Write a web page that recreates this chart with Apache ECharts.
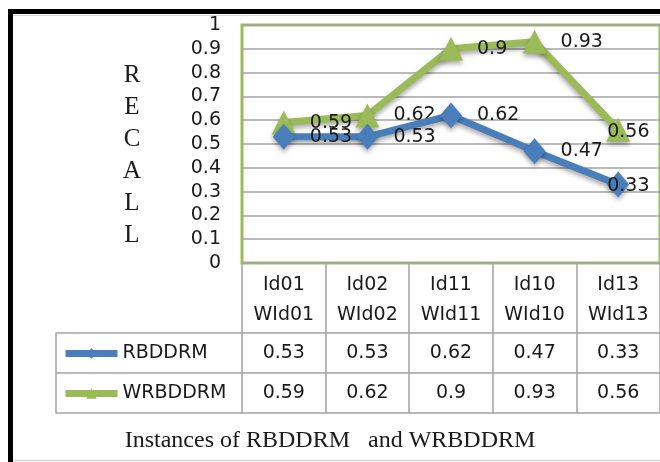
<!DOCTYPE html>
<html>
<head>
<meta charset="utf-8">
<script src="https://cdn.jsdelivr.net/npm/echarts@6/dist/echarts.min.js"></script>
<style>
  html, body { margin: 0; padding: 0; background: #fff; }
  #chart { width: 660px; height: 462px; }
</style>
</head>
<body>
<div id="chart"></div>
<script>
// Instance pairs shown as columns of the data table
const instances = ['Id01\nWId01', 'Id02\nWId02', 'Id11\nWId11', 'Id10\nWId10', 'Id13\nWId13'];
// Recall per instance
const rbddrm = [0.53, 0.53, 0.62, 0.47, 0.33];
const wrbddrm = [0.59, 0.62, 0.9, 0.93, 0.56];
// Recall axis tick labels
const recallTicks = ['0', '0.1', '0.2', '0.3', '0.4', '0.5', '0.6', '0.7', '0.8', '0.9', '1'];
const seriesNames = ['RBDDRM', 'WRBDDRM'];

const SANS = 'DejaVu Sans';
const SERIF = 'Liberation Serif';
const BLUE = '#4A7EBB';
const GREEN = '#9BBB59';
const GRID_GRAY = '#a3a3a3';
const TEXT = '#1a1a1a';

const chart = echarts.init(document.getElementById('chart'), null, { renderer: 'canvas' });

// The last column's labels are pulled back inside the chart edge
function withLabels(values) {
  const last = values.length - 1;
  return values.map((v, i) => i === last ? { value: v, label: { offset: [-37, 2] } } : v);
}

function tableRowAxis(offset, row) {
  return {
    type: 'category', gridIndex: 0, position: 'bottom', offset: offset,
    data: instances, boundaryGap: true,
    axisLine: { show: true, lineStyle: { color: GRID_GRAY, width: 1.5 } },
    axisTick: { show: false },
    splitLine: { show: false },
    axisLabel: row ? {
      show: true, interval: 0, margin: 11,
      fontFamily: SANS, fontSize: 19, lineHeight: 19, color: TEXT,
      formatter: (v, i) => String(row[i])
    } : { show: false }
  };
}

const shadow = { shadowBlur: 5, shadowOffsetY: 3, shadowColor: 'rgba(0,0,0,0.35)' };

chart.setOption({
  animation: false,
  backgroundColor: '#fff',
  title: {
    text: 'Instances of RBDDRM   and WRBDDRM',
    left: 'center', top: 424,
    textStyle: { fontFamily: SERIF, fontSize: 24, fontWeight: 'normal', color: TEXT }
  },
  legend: {
    orient: 'vertical', left: 62, top: 344, padding: 0,
    itemWidth: 52, itemHeight: 13, itemGap: 21,
    textStyle: { fontFamily: SANS, fontSize: 19, lineHeight: 19, color: TEXT },
    lineStyle: { width: 7 },
    data: seriesNames
  },
  grid: [
    { left: 242, top: 25, width: 425, height: 238, show: true,
      borderColor: GREEN, borderWidth: 3, backgroundColor: 'transparent' },
    // legend column of the data table
    { left: 56, top: 333, width: 186, height: 80, show: false },
    // holder for the vertical axis title
    { left: 242, top: 36, width: 425, height: 238, show: false }
  ],
  xAxis: [
    {
      type: 'category', gridIndex: 0, data: instances, boundaryGap: true,
      axisLine: { show: false },
      axisTick: { show: true, interval: 0, length: 150, lineStyle: { color: GRID_GRAY, width: 1.5 } },
      axisLabel: { interval: 0, margin: 7, fontFamily: SANS, fontSize: 19, lineHeight: 30, color: TEXT },
      splitLine: { show: false }
    },
    tableRowAxis(70, rbddrm),
    tableRowAxis(110, wrbddrm),
    tableRowAxis(150, null),
    { type: 'value', gridIndex: 1, show: false },
    { type: 'value', gridIndex: 2, show: false }
  ],
  yAxis: [
    {
      type: 'value', gridIndex: 0, min: 0, max: 1, interval: 0.1,
      axisLine: { show: false }, axisTick: { show: false },
      axisLabel: { margin: 21, fontFamily: SANS, fontSize: 19, color: TEXT,
        formatter: v => recallTicks[Math.round(v * 10)] },
      splitLine: { show: true, lineStyle: { color: GRID_GRAY, width: 1.5 } }
    },
    {
      type: 'category', gridIndex: 1, inverse: true, data: seriesNames, boundaryGap: true,
      axisLine: { show: true, lineStyle: { color: GRID_GRAY, width: 1.5 } },
      axisTick: { show: false }, axisLabel: { show: false },
      splitLine: { show: true, interval: 0, lineStyle: { color: GRID_GRAY, width: 1.5 } }
    },
    {
      type: 'value', gridIndex: 2, min: 0, max: 1,
      name: 'R\nE\nC\nA\nL\nL', nameLocation: 'middle', nameRotate: 0, nameGap: 110,
      nameTextStyle: { fontFamily: SERIF, fontSize: 25, lineHeight: 32, color: TEXT,
        align: 'center', verticalAlign: 'middle' },
      axisLine: { show: false }, axisTick: { show: false },
      axisLabel: { show: false }, splitLine: { show: false }
    }
  ],
  series: [
    {
      name: seriesNames[0], type: 'line', xAxisIndex: 0, yAxisIndex: 0,
      data: withLabels(rbddrm),
      symbol: 'diamond', symbolSize: [22, 26],
      lineStyle: Object.assign({ color: BLUE, width: 7 }, shadow),
      itemStyle: Object.assign({ color: BLUE }, shadow),
      label: { show: true, position: 'right', distance: 15,
        fontFamily: SANS, fontSize: 19, color: TEXT },
      z: 3
    },
    {
      name: seriesNames[1], type: 'line', xAxisIndex: 0, yAxisIndex: 0,
      data: withLabels(wrbddrm),
      symbol: 'triangle', symbolSize: [24, 24],
      lineStyle: Object.assign({ color: GREEN, width: 7 }, shadow),
      itemStyle: Object.assign({ color: GREEN }, shadow),
      label: { show: true, position: 'right', distance: 14,
        fontFamily: SANS, fontSize: 19, color: TEXT },
      z: 2
    }
  ],
  graphic: [
    // outer frame
    { type: 'rect', shape: { x: 8, y: 9, width: 660, height: 5 }, style: { fill: '#000' }, silent: true },
    { type: 'rect', shape: { x: 8, y: 9, width: 5, height: 460 }, style: { fill: '#000' }, silent: true },
    { type: 'line', shape: { x1: 13, y1: 15.5, x2: 660, y2: 15.5 }, style: { stroke: '#d9d9d9', lineWidth: 1 }, silent: true },
    { type: 'line', shape: { x1: 13, y1: 460.5, x2: 660, y2: 460.5 }, style: { stroke: '#d9d9d9', lineWidth: 1.5 }, silent: true }
  ]
});
</script>
</body>
</html>
